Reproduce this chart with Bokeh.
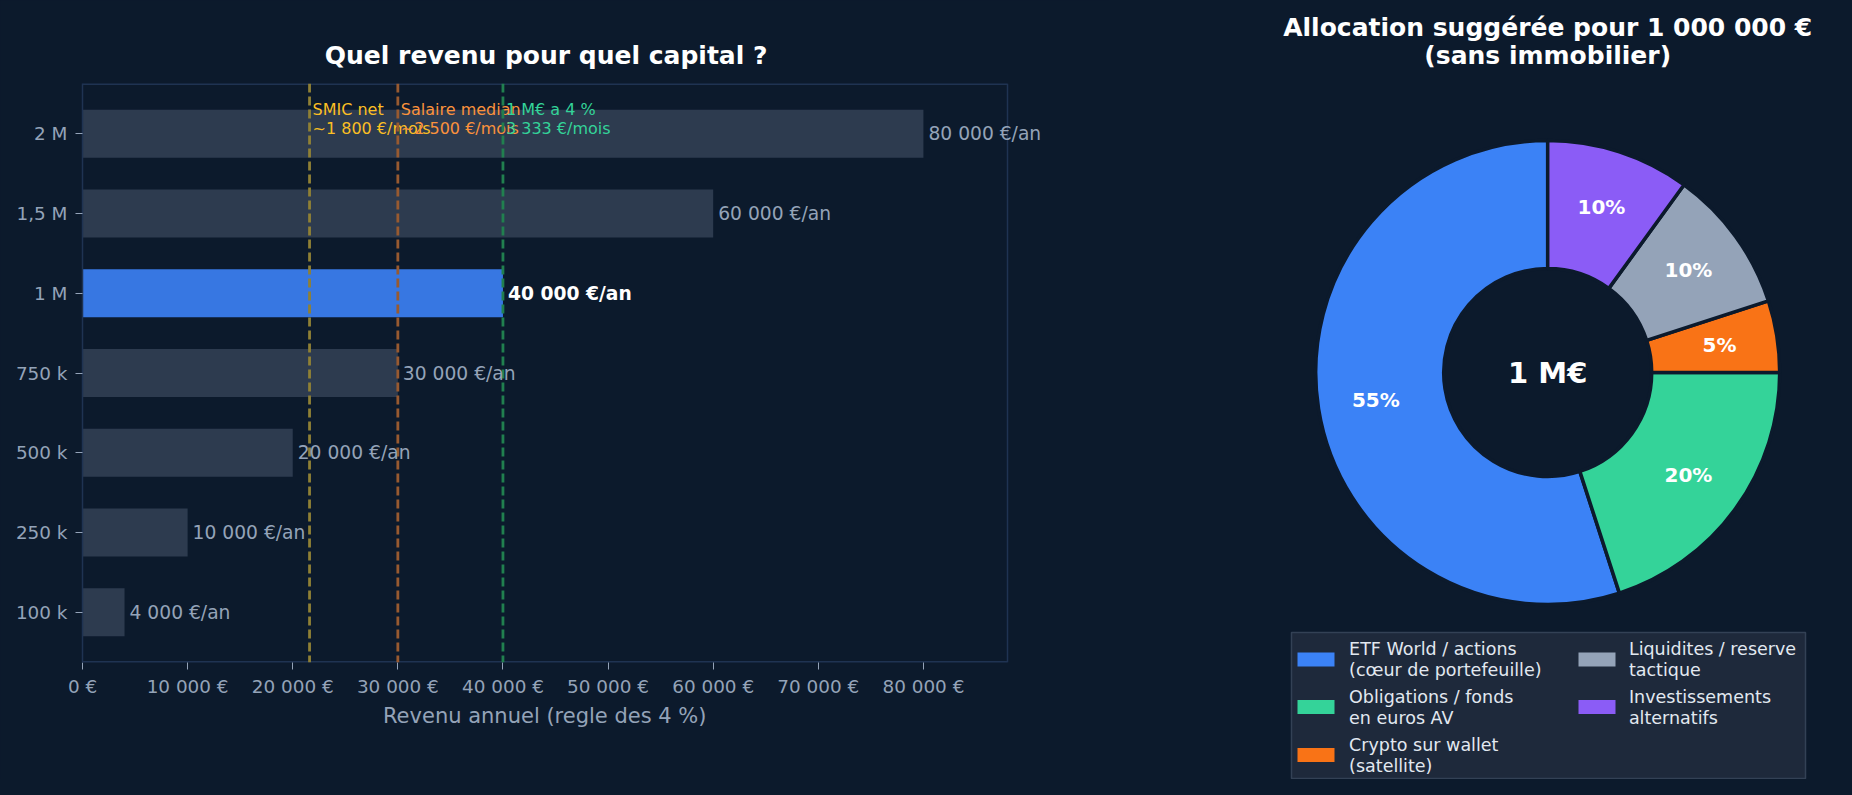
import math
from bokeh.plotting import figure
from bokeh.models import (ColumnDataSource, FactorRange, Range1d, FixedTicker, Span,
                          LabelSet, Title)
from bokeh.layouts import row, column
from bokeh.transform import dodge
from bokeh.core.properties import value
from bokeh.embed import file_html
from bokeh.resources import INLINE

# ---------------- data ----------------
capital_labels = ["100 k", "250 k", "500 k", "750 k", "1 M", "1,5 M", "2 M"]
annual_income = [4000, 10000, 20000, 30000, 40000, 60000, 80000]
highlight_label = "1 M"

x_ticks = [0, 10000, 20000, 30000, 40000, 50000, 60000, 70000, 80000]
x_tick_labels = ["0 €", "10 000 €", "20 000 €", "30 000 €", "40 000 €",
                 "50 000 €", "60 000 €", "70 000 €", "80 000 €"]
x_axis_max = 88000

ref_values = [21600, 30000, 40000]
ref_line1 = ["SMIC net", "Salaire median", "1 M€ a 4 %"]
ref_line2 = ["~1 800 €/mois", "~2 500 €/mois", "3 333 €/mois"]

alloc_labels = ["ETF World / actions\n(cœur de portefeuille)",
                "Obligations / fonds\nen euros AV",
                "Crypto sur wallet\n(satellite)",
                "Liquidites / reserve\ntactique",
                "Investissements\nalternatifs"]
alloc_pct = [55, 20, 5, 10, 10]

# ---------------- styles ----------------
BG = "#0c1a2c"
SPINE = "#1f3352"
MUTED = "#94a3b8"
BAR = "#2d3b4f"
HIGHLIGHT = "#3777e2"
FONT = value("DejaVu Sans")
REF_TEXT_COLORS = ["#fbbf24", "#fb923c", "#34d399"]
REF_LINE_COLORS = ["#8f8035", "#985a30", "#21804f"]
ALLOC_COLORS = ["#3b82f6", "#34d399", "#f97316", "#94a3b8", "#8b5cf6"]

# ---------------- left chart ----------------
AXES_W = 925          # pixel width of the 0..88000 axes box
FRAME_W = 1026        # frame extends right so that value labels are not clipped
p1 = figure(
    y_range=FactorRange(factors=capital_labels, range_padding=0.13,
                        range_padding_units="absolute"),
    x_range=Range1d(0, x_axis_max * FRAME_W / AXES_W),
    frame_width=FRAME_W, frame_height=579,
    min_border_left=82, min_border_right=0,
    min_border_top=83, min_border_bottom=117,
    output_backend="svg", toolbar_location=None,
    background_fill_color=BG, border_fill_color=BG,
    title="Quel revenu pour quel capital ?",
)
p1.title.text_font = "DejaVu Sans"
p1.title.text_font_size = "25px"
p1.title.text_font_style = "bold"
p1.title.text_color = "#ffffff"
p1.title.align = "right"
p1.title.offset = 341
p1.title.standoff = 27

p1.outline_line_color = None
p1.xgrid.visible = False
p1.ygrid.visible = False

for ax in (p1.xaxis, p1.yaxis):
    ax.axis_line_color = SPINE
    ax.axis_line_width = 1.5
    ax.major_tick_line_color = MUTED
    ax.major_tick_out = 7
    ax.major_tick_in = 0
    ax.minor_tick_line_color = None
    ax.major_label_text_color = MUTED
    ax.major_label_text_font = "DejaVu Sans"
    ax.major_label_text_font_size = "18.4px"

p1.xaxis.axis_line_color = None
p1.xaxis.ticker = FixedTicker(ticks=x_ticks, minor_ticks=[])
p1.xaxis.major_label_overrides = {t: l for t, l in zip(x_ticks, x_tick_labels)}
p1.xaxis.major_label_standoff = 6
p1.yaxis.major_label_standoff = 8

# x-axis label, centred under the 0..88000 axes box
p1.add_layout(Title(text="Revenu annuel (regle des 4 %)", align="right", offset=402,
                    standoff=4, text_font="DejaVu Sans", text_font_size="21px",
                    text_font_style="normal", text_color=MUTED), "below")

# right, top and bottom spines of the axes box
p1.add_layout(Span(location=x_axis_max, dimension="height", line_color=SPINE,
                   line_width=1.5))
p1.segment(x0="x0", x1="x1",
           y0=dodge("cat", 0.63, range=p1.y_range), y1=dodge("cat", 0.63, range=p1.y_range),
           line_color=SPINE, line_width=3,
           source=ColumnDataSource(dict(cat=[capital_labels[-1]], x0=[0], x1=[x_axis_max])))
p1.segment(x0="x0", x1="x1",
           y0=dodge("cat", -0.63, range=p1.y_range), y1=dodge("cat", -0.63, range=p1.y_range),
           line_color=SPINE, line_width=3,
           source=ColumnDataSource(dict(cat=[capital_labels[0]], x0=[0], x1=[x_axis_max])))

bar_colors = [HIGHLIGHT if c == highlight_label else BAR for c in capital_labels]
bar_src = ColumnDataSource(dict(cat=capital_labels, val=annual_income, color=bar_colors))
p1.hbar(y="cat", left=0, right="val", height=0.6, fill_color="color",
        line_color=None, source=bar_src)

for v, col in zip(ref_values, REF_LINE_COLORS):
    p1.add_layout(Span(location=v, dimension="height", line_color=col,
                       line_width=2.8, line_dash="9 4"))

def fmt_income(v):
    return f"{v:,}".replace(",", " ") + " €/an"

norm_idx = [i for i, c in enumerate(capital_labels) if c != highlight_label]
hi_idx = [i for i, c in enumerate(capital_labels) if c == highlight_label]
norm_src = ColumnDataSource(dict(
    cat=[capital_labels[i] for i in norm_idx],
    val=[annual_income[i] for i in norm_idx],
    txt=[fmt_income(annual_income[i]) for i in norm_idx]))
hi_src = ColumnDataSource(dict(
    cat=[capital_labels[i] for i in hi_idx],
    val=[annual_income[i] for i in hi_idx],
    txt=[fmt_income(annual_income[i]) for i in hi_idx]))
p1.add_layout(LabelSet(x="val", y="cat", text="txt", source=norm_src, x_offset=5,
                       text_baseline="middle", text_align="left",
                       text_font=FONT, text_font_size="18.7px", text_color=MUTED))
p1.add_layout(LabelSet(x="val", y="cat", text="txt", source=hi_src, x_offset=5,
                       text_baseline="middle", text_align="left",
                       text_font=FONT, text_font_size="18.7px", text_color="#ffffff",
                       text_font_style="bold"))

top_cat = capital_labels[-1]
ref_src = ColumnDataSource(dict(x=ref_values, cat=[top_cat] * len(ref_values),
                                l1=ref_line1, l2=ref_line2, color=REF_TEXT_COLORS))
p1.text(x="x", y=dodge("cat", 0.307, range=p1.y_range), text="l1", source=ref_src,
        x_offset=3, text_baseline="alphabetic", text_align="left", text_font=FONT,
        text_font_size="16px", text_color="color")
p1.text(x="x", y=dodge("cat", 0.069, range=p1.y_range), text="l2", source=ref_src,
        x_offset=3, text_baseline="alphabetic", text_align="left", text_font=FONT,
        text_font_size="16px", text_color="color")

# ---------------- right chart (donut) ----------------
W2, H2 = 736, 779
p2 = figure(x_range=Range1d(0, W2), y_range=Range1d(0, H2),
            frame_width=W2, frame_height=H2, min_border=0,
            x_axis_type=None, y_axis_type=None,
            output_backend="svg", toolbar_location=None,
            background_fill_color=BG, border_fill_color=BG)
p2.outline_line_color = None
p2.grid.visible = False

cx, cy = 439.2, 407.0
R_out, R_in = 232.0, 104.0
starts, ends, mids = [], [], []
acc = 90.0
for pct in alloc_pct:
    span = pct / sum(alloc_pct) * 360.0
    starts.append(math.radians(acc))
    ends.append(math.radians(acc + span))
    mids.append(math.radians(acc + span / 2))
    acc += span

wedge_src = ColumnDataSource(dict(start=starts, end=ends, color=ALLOC_COLORS))
p2.annular_wedge(x=cx, y=cy, inner_radius=R_in, outer_radius=R_out,
                 start_angle="start", end_angle="end", fill_color="color",
                 line_color=BG, line_width=3.5, source=wedge_src)

lab_r = 0.75 * R_out
pct_src = ColumnDataSource(dict(
    x=[cx + lab_r * math.cos(a) for a in mids],
    y=[cy + lab_r * math.sin(a) for a in mids],
    t=[f"{p}%" for p in alloc_pct]))
p2.text(x="x", y="y", text="t", source=pct_src, text_align="center",
        text_baseline="middle", text_font=FONT, text_font_size="20px",
        text_font_style="bold", text_color="#ffffff")

p2.text(x=[cx], y=[cy], text=["1 M€"], text_align="center", text_baseline="middle",
        text_font=FONT, text_font_size="29px", text_font_style="bold",
        text_color="#ffffff")

p2.text(x=[cx, cx], y=[752, 724.3],
        text=["Allocation suggérée pour 1 000 000 €", "(sans immobilier)"],
        text_align="center", text_baseline="alphabetic", text_font=FONT,
        text_font_size="25px", text_font_style="bold", text_color="#ffffff")

# manual legend
p2.quad(left=[183], right=[697], bottom=[1], top=[147], fill_color="#1e293b",
        line_color="#334155", line_width=1.5)
n_rows = 3
sw_x = [207.5, 488.5]
tx_x = [240.6, 520.4]
row_y = [120.0, 72.5, 24.5]
sw_cx, sw_cy, sw_col = [], [], []
t_x, t_y, t_t = [], [], []
for i, (lab, col) in enumerate(zip(alloc_labels, ALLOC_COLORS)):
    c, r = divmod(i, n_rows)
    sw_cx.append(sw_x[c]); sw_cy.append(row_y[r]); sw_col.append(col)
    lines = lab.split("\n")
    for k, ln in enumerate(lines):
        t_x.append(tx_x[c])
        t_y.append(row_y[r] + (len(lines) - 1) * 10.5 - k * 21.0)
        t_t.append(ln)
p2.rect(x=sw_cx, y=sw_cy, width=37, height=14, fill_color=sw_col, line_color=None)
p2.text(x=t_x, y=t_y, text=t_t, text_align="left", text_baseline="middle",
        text_font=FONT, text_font_size="17.5px", text_color="#e2e8f0")

layout = row(column(p1), column(p2),
             styles={"background-color": BG, "box-shadow": f"0 0 0 40px {BG}"})
with open("out.html", "w") as f:
    f.write(file_html(layout, INLINE))
